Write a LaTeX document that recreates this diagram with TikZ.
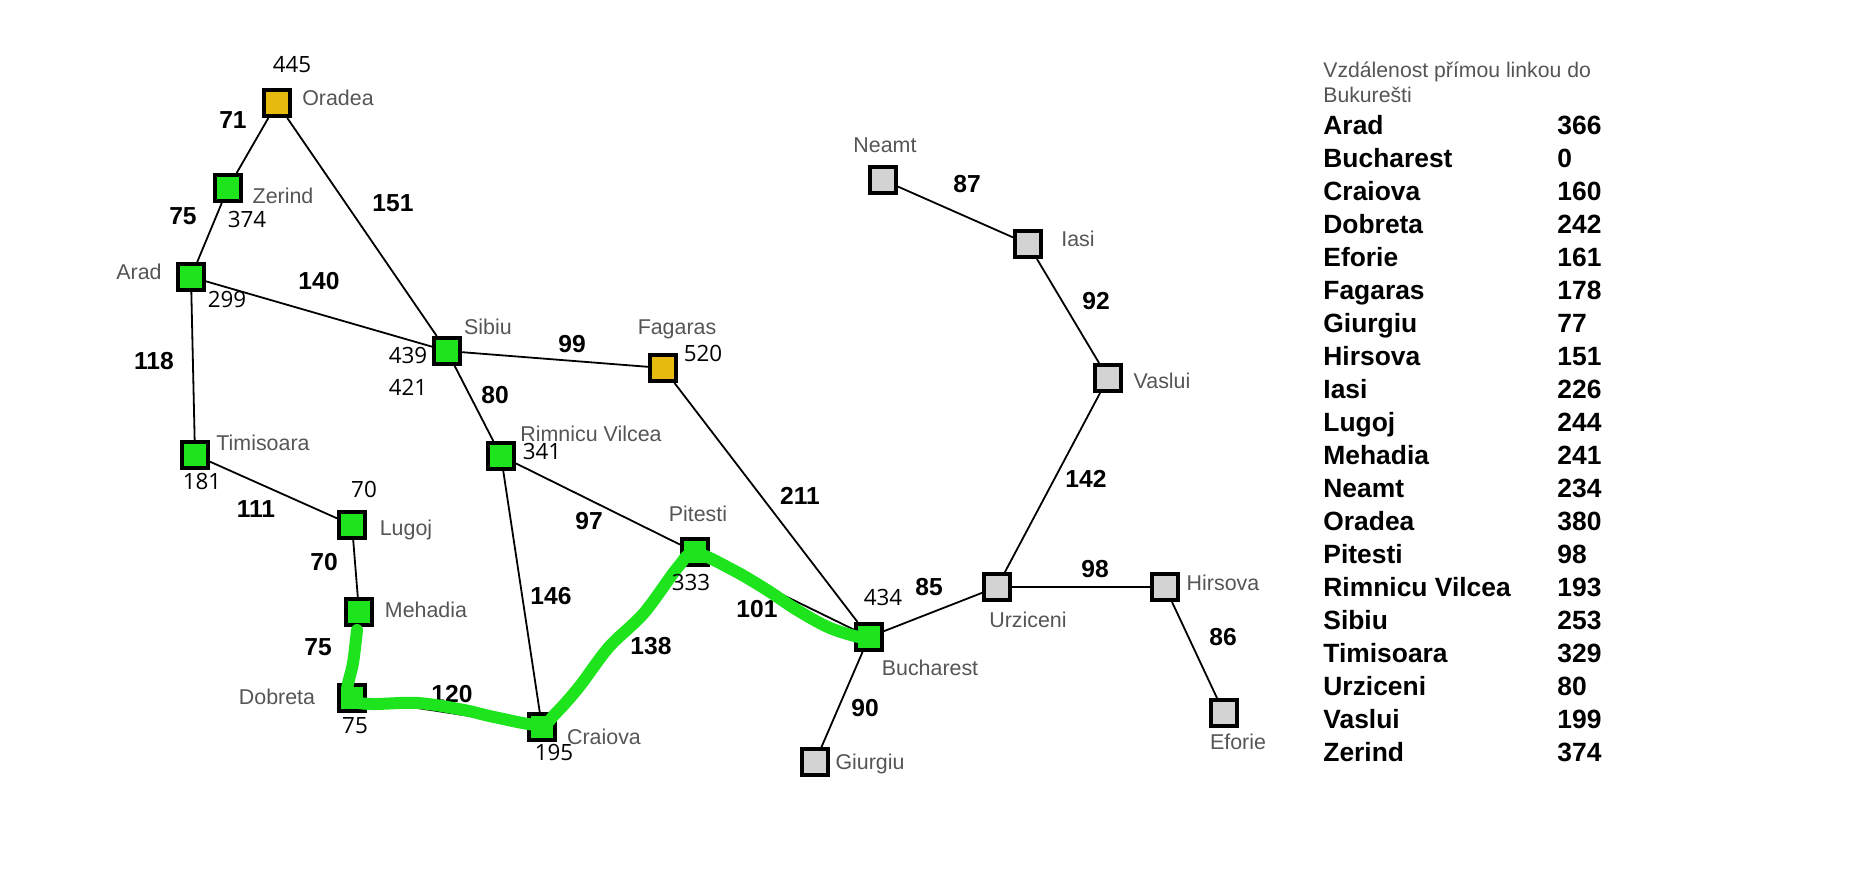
\documentclass[tikz,border=0pt]{standalone}
\usepackage{fontspec}
\setmainfont{Liberation Sans}
\newfontfamily\hfont{Open Sans}
\definecolor{cgreen}{RGB}{30,228,30}
\definecolor{cgold}{RGB}{230,186,14}
\definecolor{cgray}{RGB}{211,211,211}
\definecolor{ltext}{RGB}{85,85,85}
\tikzset{
 city/.style={draw=black, line width=2pt, minimum size=13pt, inner sep=0pt, rectangle},
 gcity/.style={city, fill=cgreen},
 ocity/.style={city, fill=cgold},
 scity/.style={city, fill=cgray},
 lbl/.style={inner sep=0pt, text height=0.72em, text depth=0pt, text=ltext, font=\fontsize{10.7}{12}\selectfont},
 elbl/.style={inner sep=0pt, text height=0.72em, text depth=0pt, font=\fontsize{12.3}{14}\selectfont\bfseries},
 hval/.style={inner sep=0pt, text height=0.72em, text depth=0pt, font=\hfont\fontsize{11.2}{13}\selectfont},
 road/.style={line width=0.9pt, draw=black},
 tname/.style={anchor=west, inner sep=0pt, text height=0.72em, text depth=0pt, font=\fontsize{13.2}{15}\selectfont\bfseries},
 ttitle/.style={anchor=west, inner sep=0pt, text height=0.72em, text depth=0pt, text=ltext, font=\fontsize{10.6}{12}\selectfont},
 hipath/.style={line width=6pt, draw=cgreen, line cap=round, line join=round},
}
\begin{document}
\begin{tikzpicture}[x=0.5pt,y=-0.5pt]
\useasboundingbox (0,0) rectangle (1856,872);
\fill[white] (0,0) rectangle (1856,872);
% cities
\node[ocity] (ora) at (277,103) {};
\node[gcity] (zer) at (228,188) {};
\node[gcity] (ara) at (191,277) {};
\node[gcity] (sib) at (447,351) {};
\node[ocity] (fag) at (663,368) {};
\node[gcity] (rim) at (501,456) {};
\node[gcity] (pit) at (695,552) {};
\node[gcity] (tim) at (195,455) {};
\node[gcity] (lug) at (352,525) {};
\node[gcity] (meh) at (359,612) {};
\node[gcity] (dob) at (352,698) {};
\node[gcity] (cra) at (542,727) {};
\node[gcity] (buc) at (869,637) {};
\node[scity] (giu) at (815,762) {};
\node[scity] (urz) at (997,587) {};
\node[scity] (hir) at (1165,587) {};
\node[scity] (efo) at (1224,713) {};
\node[scity] (vas) at (1108,378) {};
\node[scity] (ias) at (1028,244) {};
\node[scity] (nea) at (883,180) {};
% roads
\draw[road] (ora) -- (zer);
\draw[road] (zer) -- (ara);
\draw[road] (ora) -- (sib);
\draw[road] (ara) -- (sib);
\draw[road] (ara) -- (tim);
\draw[road] (tim) -- (lug);
\draw[road] (lug) -- (meh);
\draw[road] (meh) -- (dob);
\draw[road] (dob) -- (cra);
\draw[road] (sib) -- (fag);
\draw[road] (sib) -- (rim);
\draw[road] (rim) -- (pit);
\draw[road] (rim) -- (cra);
\draw[road] (cra) -- (pit);
\draw[road] (fag) -- (buc);
\draw[road] (pit) -- (buc);
\draw[road] (buc) -- (giu);
\draw[road] (buc) -- (urz);
\draw[road] (urz) -- (hir);
\draw[road] (hir) -- (efo);
\draw[road] (urz) -- (vas);
\draw[road] (vas) -- (ias);
\draw[road] (ias) -- (nea);
% city names
\node[lbl] (lora) at (338,98) {Oradea};
\node[lbl] (lzer) at (283,196) {Zerind};
\node[lbl] (lara) at (139,272) {Arad};
\node[lbl] (lsib) at (488,327) {Sibiu};
\node[lbl] (lfag) at (677,327) {Fagaras};
\node[lbl] (lrim) at (591,434) {Rimnicu Vilcea};
\node[lbl] (lpit) at (698,514) {Pitesti};
\node[lbl] (ltim) at (263,443) {Timisoara};
\node[lbl] (llug) at (406,528) {Lugoj};
\node[lbl] (lmeh) at (426,610) {Mehadia};
\node[lbl] (ldob) at (277,697) {Dobreta};
\node[lbl] (lcra) at (604,737) {Craiova};
\node[lbl] (lbuc) at (930,668) {Bucharest};
\node[lbl] (lgiu) at (870,762) {Giurgiu};
\node[lbl] (lurz) at (1028,620) {Urziceni};
\node[lbl] (lhir) at (1223,583) {Hirsova};
\node[lbl] (lefo) at (1238,742) {Eforie};
\node[lbl] (lvas) at (1162,381) {Vaslui};
\node[lbl] (lias) at (1078,239) {Iasi};
\node[lbl] (lnea) at (885,145) {Neamt};
% road lengths
\node[elbl] (e1) at (233,121) {71};
\node[elbl] (e2) at (183,217) {75};
\node[elbl] (e3) at (393,204) {151};
\node[elbl] (e4) at (319,282) {140};
\node[elbl] (e5) at (154,362) {118};
\node[elbl] (e6) at (256,510) {111};
\node[elbl] (e7) at (324,563) {70};
\node[elbl] (e8) at (318,648) {75};
\node[elbl] (e9) at (452,695) {120};
\node[elbl] (e10) at (572,345) {99};
\node[elbl] (e11) at (495,396) {80};
\node[elbl] (e12) at (589,522) {97};
\node[elbl] (e13) at (551,597) {146};
\node[elbl] (e14) at (651,647) {138};
\node[elbl] (e15) at (800,497) {211};
\node[elbl] (e16) at (757,610) {101};
\node[elbl] (e17) at (865,709) {90};
\node[elbl] (e18) at (929,588) {85};
\node[elbl] (e19) at (1095,570) {98};
\node[elbl] (e20) at (1223,638) {86};
\node[elbl] (e21) at (1086,480) {142};
\node[elbl] (e22) at (1096,302) {92};
\node[elbl] (e23) at (967,185) {87};
% highlighted path
\draw[hipath] plot[smooth, tension=0.55] coordinates {(357,630) (353,663) (347,690) (352,701) (372,704) (418,703) (464,710) (494,717) (540,725) (556,713) (579,687) (609,647) (644,613) (678,567) (695,553) (733,570) (767,590) (797,610) (830,628) (863,638) (872,636)};
% heuristic values
\node[hval] (h1) at (292,65) {445};
\node[hval] (h2) at (247,220) {374};
\node[hval] (h3) at (227,300) {299};
\node[hval] (h4) at (408,356) {439};
\node[hval] (h5) at (408,388) {421};
\node[hval] (h6) at (703,354) {520};
\node[hval] (h7) at (542,452) {341};
\node[hval] (h8) at (202,482) {181};
\node[hval] (h9) at (364,490) {70};
\node[hval] (h10) at (355,726) {75};
\node[hval] (h11) at (554,753) {195};
\node[hval] (h12) at (691,583) {333};
\node[hval] (h13) at (883,598) {434};
% table
\node[ttitle] (t1) at (1323,70) {Vzdálenost přímou linkou do};
\node[ttitle] (t2) at (1323,95) {Bukurešti};
\foreach \n/\v [count=\i from 0] in {Arad/366,Bucharest/0,Craiova/160,Dobreta/242,Eforie/161,Fagaras/178,Giurgiu/77,Hirsova/151,Iasi/226,Lugoj/244,Mehadia/241,Neamt/234,Oradea/380,Pitesti/98,Rimnicu Vilcea/193,Sibiu/253,Timisoara/329,Urziceni/80,Vaslui/199,Zerind/374}{
  \node[tname] (tn\i) at (1323,127+33*\i) {\n};
  \node[tname] (tv\i) at (1557,127+33*\i) {\v};
}
\end{tikzpicture}
\end{document}
